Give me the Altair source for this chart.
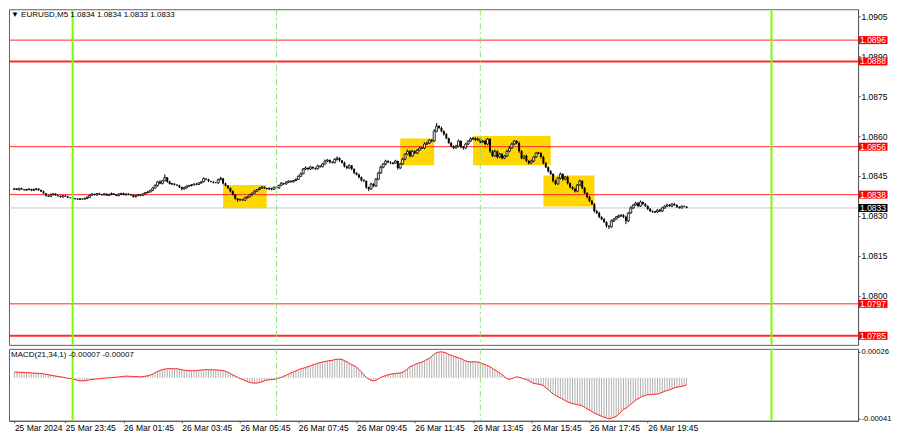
import altair as alt
import pandas as pd

# ---------------- data ----------------
# time axis: minutes counted from 25 Mar 2024 00:00, one M5 bar every 5 minutes
first_bar_minute = 1305          # 25 Mar 21:45
bar_step = 5

# closes in points above 1.08000 (e.g. 401 -> 1.08401), one row per hour
closes_pts = [
    401, 403, 400,
    402, 398, 404, 400, 397, 399, 401, 396, 399, 402, 397, 392,
    385, 376, 373, 380, 383, 378, 374, 371, 376, 373, 369, 368,
    366, 364, 362, 365, 363, 366, 370, 378, 382, 379, 384, 381,
    379, 383, 377, 381, 384, 380, 376, 382, 385, 379, 383, 381,
    378, 372, 376, 380, 377, 383, 388, 390, 396, 405, 414, 428,
    422, 432, 444, 428, 420, 421, 417, 414, 408, 401, 406, 412,
    414, 417, 420, 418, 424, 428, 440, 437, 431, 428, 425, 424,
    436, 441, 422, 414, 405, 393, 380, 365, 360, 362, 359, 368,
    372, 380, 386, 393, 399, 404, 409, 405, 401, 404, 400, 408,
    405, 415, 423, 420, 427, 431, 428, 433, 437, 449, 458, 476,
    480, 476, 484, 479, 477, 488, 485, 495, 506, 510, 502, 500,
    512, 517, 508, 500, 486, 480, 489, 476, 462, 455, 445, 434,
    431, 408, 401, 420, 412, 438, 461, 483, 495, 506, 502, 498,
    498, 506, 480, 495, 513, 532, 543, 525, 543, 536, 547, 555,
    555, 570, 574, 585, 581, 618, 637, 630, 618, 607, 592, 574,
    562, 555, 562, 581, 559, 555, 570, 581, 589, 592, 585, 589,
    577, 581, 570, 589, 543, 525, 543, 521, 532, 517, 525, 543,
    555, 570, 581, 574, 543, 517, 525, 506, 498, 506, 521, 536,
    536, 521, 498, 483, 468, 457, 431, 420, 442, 457, 438, 446,
    423, 408, 401, 393, 416, 431, 405, 386, 371, 356, 345, 318,
    311, 296, 288, 277, 262, 259, 281, 288, 296, 300, 303, 296,
    281, 311, 330, 341, 348, 337, 352, 345, 337, 326, 318, 315,
    315, 322, 318, 330, 337, 341, 337, 345, 341, 333, 330, 337,
    335, 330,
]

# upper / lower wick lengths in points
wick_up = [
    2, 1, 3,
    2, 3, 1, 2, 0, 3, 2, 1, 4, 2, 1, 2,
    3, 1, 2, 4, 1, 2, 0, 3, 1, 2, 3, 1,
    2, 1, 3, 2, 0, 2, 3, 1, 4, 2, 1, 3,
    2, 3, 1, 2, 4, 1, 2, 3, 1, 2, 0, 2,
    1, 3, 2, 1, 2, 3, 1, 4, 2, 3, 5, 4,
    6, 3, 12, 2, 4, 3, 1, 2, 3, 2, 4, 3,
    2, 3, 1, 4, 2, 3, 5, 2, 3, 1, 2, 3,
    4, 6, 2, 3, 1, 2, 3, 2, 1, 3, 2, 4,
    3, 2, 1, 3, 2, 4, 3, 2, 1, 3, 2, 2,
    3, 2, 4, 1, 3, 2, 3, 2, 4, 3, 5, 4,
    6, 3, 4, 2, 3, 5, 2, 4, 6, 3, 2, 4,
    5, 6, 3, 2, 4, 3, 5, 2, 3, 2, 4, 3,
    4, 3, 2, 5, 3, 4, 5, 6, 4, 5, 3, 4,
    3, 5, 2, 4, 5, 3, 6, 4, 5, 3, 4, 5,
    4, 6, 5, 4, 3, 8, 12, 4, 5, 3, 4, 2,
    4, 3, 5, 6, 3, 4, 5, 3, 6, 4, 3, 5,
    4, 3, 5, 4, 3, 4, 6, 3, 5, 4, 3, 5,
    6, 5, 4, 3, 5, 4, 3, 5, 4, 6, 3, 5,
    4, 3, 5, 4, 3, 4, 3, 5, 4, 6, 3, 4,
    5, 3, 4, 6, 4, 5, 3, 4, 3, 5, 4, 3,
    4, 5, 3, 4, 3, 4, 5, 3, 4, 5, 3, 4,
    5, 4, 6, 3, 5, 4, 6, 3, 4, 3, 4, 3,
    4, 3, 5, 4, 3, 5, 4, 3, 4, 3, 4, 2,
    2, 1,
]
wick_dn = [
    1, 2, 2,
    3, 1, 2, 2, 3, 1, 2, 3, 1, 2, 3, 2,
    2, 3, 1, 2, 3, 2, 1, 3, 2, 1, 2, 3,
    2, 3, 1, 2, 2, 1, 3, 2, 1, 2, 3, 1,
    3, 2, 1, 2, 3, 1, 2, 2, 3, 1, 2, 3,
    2, 3, 2, 1, 3, 2, 1, 3, 2, 3, 2, 4,
    3, 4, 2, 3, 2, 4, 3, 2, 3, 5, 2, 3,
    2, 3, 2, 3, 1, 3, 2, 3, 4, 2, 3, 2,
    3, 2, 4, 3, 4, 5, 3, 4, 6, 3, 2, 3,
    3, 2, 4, 2, 3, 2, 3, 4, 2, 3, 4, 2,
    2, 3, 2, 4, 2, 3, 4, 2, 3, 2, 3, 2,
    4, 5, 3, 4, 5, 3, 4, 3, 2, 4, 5, 3,
    3, 4, 5, 3, 4, 5, 3, 4, 5, 3, 4, 5,
    4, 6, 8, 3, 4, 3, 4, 3, 4, 5, 3, 4,
    5, 3, 6, 4, 3, 4, 3, 5, 3, 4, 3, 4,
    3, 4, 3, 4, 5, 3, 4, 3, 4, 5, 4, 3,
    5, 4, 3, 4, 5, 6, 3, 4, 3, 4, 3, 4,
    4, 3, 5, 4, 6, 4, 3, 5, 4, 5, 4, 3,
    4, 3, 4, 5, 6, 4, 5, 4, 5, 3, 4, 3,
    4, 5, 4, 3, 5, 4, 5, 4, 3, 5, 6, 4,
    5, 4, 3, 5, 4, 3, 5, 4, 5, 4, 3, 5,
    4, 5, 4, 3, 6, 8, 3, 4, 3, 4, 3, 4,
    12, 4, 3, 4, 3, 4, 3, 4, 3, 4, 3, 4,
    3, 4, 3, 4, 3, 2, 3, 4, 3, 2, 3, 2,
    2, 1,
]

# MACD(21,34,1) per bar, in units of 0.00001
macd_e5 = [
    6.2, 6.0, 5.9,
    5.8, 5.7, 5.6, 5.5, 5.4, 5.2, 5.1, 4.9, 4.8, 4.6, 4.5, 4.3,
    4.0, 3.6, 3.1, 2.7, 2.2, 1.8, 1.3, 1.0, 0.6, 0.1, -0.4, -0.7,
    -1.2, -1.8, -2.5, -3.0, -3.1, -2.9, -2.5, -2.0, -1.7, -1.4, -1.1, -0.9,
    -0.6, -0.4, -0.2, 0.0, 0.2, 0.4, 0.6, 0.9, 1.2, 1.5, 1.7, 1.6,
    1.5, 1.3, 1.2, 1.1, 1.0, 1.2, 1.6, 2.1, 2.7, 3.8, 5.0, 6.5,
    7.3, 8.1, 8.8, 9.1, 9.2, 9.1, 9.0, 9.1, 8.6, 8.0, 7.6, 7.4,
    7.2, 7.0, 7.1, 7.3, 7.6, 7.9, 8.1, 8.2, 8.1, 8.0, 8.1, 7.9,
    7.7, 7.6, 7.3, 6.5, 5.5, 4.2, 3.0, 1.8, 0.5, -0.8, -1.7, -2.8,
    -3.8, -4.6, -5.1, -5.3, -5.2, -4.8, -4.0, -3.0, -2.3, -2.0, -1.8, -1.5,
    -1.0, -0.2, 0.6, 1.5, 2.6, 3.8, 5.0, 6.0, 7.0, 8.0, 9.0, 9.6,
    10.3, 11.2, 12.1, 13.0, 13.7, 14.5, 15.2, 15.8, 16.3, 16.8, 17.2, 17.6,
    18.2, 18.6, 18.7, 18.3, 17.2, 16.0, 14.6, 13.3, 12.1, 10.6, 8.5, 6.0,
    3.0, 0.3, -1.2, -2.5, -3.0, -2.6, -1.0, 0.5, 1.3, 2.3, 3.0, 3.7,
    4.0, 4.3, 4.6, 5.0, 5.6, 7.0, 9.0, 11.0, 12.2, 13.3, 14.3, 15.0,
    15.8, 17.0, 18.5, 19.5, 21.5, 23.8, 25.3, 25.8, 26.0, 25.6, 24.8, 23.5,
    22.5, 21.7, 20.8, 20.0, 19.3, 18.0, 16.8, 16.1, 16.0, 16.0, 16.1, 15.8,
    15.0, 14.0, 13.2, 12.2, 11.0, 9.5, 8.0, 6.5, 5.0, 3.0, 1.0, -1.0,
    -1.5, -0.8, 0.2, 1.0, 0.5, -0.2, -1.0, -1.8, -3.0, -4.5, -5.6, -6.0,
    -6.4, -6.8, -8.0, -10.0, -11.8, -14.0, -16.2, -17.8, -19.0, -20.0, -21.5, -22.8,
    -24.0, -25.0, -25.8, -26.4, -27.0, -27.3, -28.0, -29.5, -31.0, -32.3, -33.8, -35.3,
    -36.5, -37.5, -38.5, -39.5, -40.3, -41.0, -40.5, -39.5, -38.6, -36.5, -34.0, -31.5,
    -30.5, -28.5, -26.5, -24.5, -22.5, -21.0, -19.6, -18.4, -17.5, -17.0, -16.8, -16.6,
    -16.4, -16.2, -15.5, -14.5, -13.5, -12.8, -12.0, -11.0, -10.0, -9.4, -9.0, -8.5,
    -8.0, -7.0,
]

# horizontal levels (red), their widths, and the current price (bid)
levels = [1.0896, 1.0888, 1.0856, 1.0838, 1.0797, 1.0785]
level_widths = [1, 2, 1, 1, 1, 2]
bid_price = 1.0833

# yellow rectangles: start / end minute, top / bottom price
box_t1 = [1750, 2115, 2265, 2410]
box_t2 = [1840, 2185, 2425, 2515]
box_top = [1.08416, 1.08591, 1.08600, 1.08452]
box_bottom = [1.08329, 1.08490, 1.08490, 1.08335]

# vertical separators
day_lines = [1440, 2880]          # 26 Mar 00:00, 27 Mar 00:00
session_lines = [1860, 2280]      # 26 Mar 07:00, 26 Mar 14:00

# axes
price_ticks = [1.0905, 1.0890, 1.0875, 1.0860, 1.0845, 1.0830, 1.0815, 1.0800]
macd_ticks = [0.00026, 0.0, -0.00041]
time_tick_minutes = [1320, 1425, 1545, 1665, 1785, 1905, 2025, 2145, 2265, 2385, 2505, 2625]
time_tick_labels = ["25 Mar 2024", "25 Mar 23:45", "26 Mar 01:45", "26 Mar 03:45",
                    "26 Mar 05:45", "26 Mar 07:45", "26 Mar 09:45", "26 Mar 11:45",
                    "26 Mar 13:45", "26 Mar 15:45", "26 Mar 17:45", "26 Mar 19:45"]

header_text = "▼ EURUSD,M5  1.0834 1.0834 1.0833 1.0833"
macd_header = "MACD(21,34,1) -0.00007 -0.00007"

x_domain = [1319.2, 3048.0]
price_domain = [1.07816, 1.09076]
macd_domain = [-0.00043, 0.00029]

# ---------------- tables ----------------
n = len(closes_pts)
assert len(wick_up) == n and len(wick_dn) == n and len(macd_e5) == n
times = [first_bar_minute + bar_step * i for i in range(n)]
close = [1.08 + v / 100000 for v in closes_pts]
open_ = [close[0]] + close[:-1]
high = [max(o, c) + w / 100000 for o, c, w in zip(open_, close, wick_up)]
low = [min(o, c) - w / 100000 for o, c, w in zip(open_, close, wick_dn)]
candles_all = pd.DataFrame({"t": times, "o": open_, "c": close, "h": high, "l": low})
macd_all = pd.DataFrame({"t": times, "m": [v / 100000 for v in macd_e5], "zero": 0.0})

# bars left of the visible window (the window starts at 22:00) are not drawn
candles = candles_all[candles_all["t"] >= 1320]
macd_df = macd_all[macd_all["t"] >= 1320]
bull = candles[candles["c"] >= candles["o"]]
bear = candles[candles["c"] < candles["o"]]

levels_df = pd.DataFrame({"p": levels, "w": level_widths,
                          "label": [f"{v:.4f}" for v in levels]})
bid_df = pd.DataFrame({"p": [bid_price], "label": [f"{bid_price:.4f}"]})
boxes_df = pd.DataFrame({"t1": box_t1, "t2": box_t2, "p1": box_top, "p2": box_bottom})
day_df = pd.DataFrame({"t": day_lines})
sess_df = pd.DataFrame({"t": session_lines})

PW = 850
PH = 336
MH = 72
FONT = "Liberation Sans"
FS = 8.5
BOXX = PW + 15

xs = alt.Scale(domain=x_domain, nice=False, zero=False)
ps = alt.Scale(domain=price_domain, nice=False, zero=False)
ms = alt.Scale(domain=macd_domain, nice=False, zero=False)

price_axis = alt.Axis(orient="right", values=price_ticks, format=".4f", grid=False,
                      title=None, tickSize=2, labelPadding=1, labelFont=FONT,
                      labelFontSize=FS, labelColor="#000000", domainColor="#555555",
                      tickColor="#555555")


def PX(field):
    return alt.X(field, type="quantitative", scale=xs, axis=None, title=None)


def PY(field):
    return alt.Y(field, type="quantitative", scale=ps, title=None)


boxes = alt.Chart(boxes_df).mark_rect(color="#ffd700", clip=True).encode(
    x=PX("t1"), x2="t2",
    y=alt.Y("p1", type="quantitative", scale=ps, axis=price_axis, title=None), y2="p2")

bid_line = alt.Chart(bid_df).mark_rule(color="#c8c8c8", strokeWidth=1, clip=True).encode(
    y=PY("p"))

level_lines = alt.Chart(levels_df).mark_rule(color="#ff2a2a", clip=True).encode(
    y=PY("p"),
    strokeWidth=alt.StrokeWidth("w:Q", scale=None, legend=None))

wicks = alt.Chart(candles).mark_rule(color="#000000", strokeWidth=1, clip=True).encode(
    x=PX("t"), y=PY("l"), y2="h")

bull_bodies = alt.Chart(bull).mark_bar(width=2, fill="#ffffff", stroke="#000000",
                                       strokeWidth=0.8, clip=True).encode(
    x=PX("t"), y=PY("o"), y2="c")

bear_bodies = alt.Chart(bear).mark_bar(width=2, color="#000000", clip=True).encode(
    x=PX("t"), y=PY("o"), y2="c")

sess_p = alt.Chart(sess_df).mark_rule(color="#8fe07a", strokeWidth=1,
                                      strokeDash=[6, 3, 2, 3], clip=True).encode(x=PX("t"))
day_p = alt.Chart(day_df).mark_rule(color="#7cfc00", strokeWidth=2, clip=True).encode(x=PX("t"))

header = alt.Chart(pd.DataFrame({"s": [header_text]})).mark_text(
    align="left", baseline="middle", font=FONT, fontSize=8, color="#000000").encode(
    x=alt.value(2), y=alt.value(6), text="s:N")

lvl_box = alt.Chart(levels_df).mark_tick(orient="horizontal", size=29, thickness=8,
                                         color="#ff0000", opacity=1).encode(
    x=alt.value(BOXX), y=PY("p"))
lvl_txt = alt.Chart(levels_df).mark_text(align="center", baseline="middle", font=FONT,
                                         fontSize=FS, color="#ffffff").encode(
    x=alt.value(BOXX), y=PY("p"), text="label:N")
bid_box = alt.Chart(bid_df).mark_tick(orient="horizontal", size=29, thickness=8,
                                      color="#000000", opacity=1).encode(
    x=alt.value(BOXX), y=PY("p"))
bid_txt = alt.Chart(bid_df).mark_text(align="center", baseline="middle", font=FONT,
                                      fontSize=FS, color="#ffffff").encode(
    x=alt.value(BOXX), y=PY("p"), text="label:N")

price_chart = alt.layer(
    boxes, bid_line, level_lines, wicks, bull_bodies, bear_bodies,
    sess_p, day_p, header, lvl_box, lvl_txt, bid_box, bid_txt
).properties(width=PW, height=PH)

# ---------------- MACD pane ----------------
labels_js = "[" + ",".join(f"'{s}'" for s in time_tick_labels) + "]"
vals_js = "[" + ",".join(str(v) for v in time_tick_minutes) + "]"
time_axis = alt.Axis(orient="bottom", values=time_tick_minutes, title=None,
                     labelExpr=f"{labels_js}[indexof({vals_js}, datum.value)]",
                     labelAlign="left", labelBaseline="top", labelPadding=1,
                     labelFlush=False, labelOverlap=False, grid=False, tickSize=2,
                     labelFont=FONT, labelFontSize=8.5, labelColor="#000000",
                     domainColor="#555555", tickColor="#555555")
macd_axis = alt.Axis(orient="right", values=macd_ticks, title=None,
                     labelExpr="datum.value == 0 ? '0.00' : (datum.value < 0 ? '-' + format(-datum.value, '.5f') : format(datum.value, '.5f'))",
                     grid=False, tickSize=2, labelPadding=1, labelFont=FONT,
                     labelFontSize=7.6, labelColor="#000000", domainColor="#555555",
                     tickColor="#555555")


def MX(field, axis=None):
    if axis is None:
        return alt.X(field, type="quantitative", scale=xs, title=None)
    return alt.X(field, type="quantitative", scale=xs, axis=axis, title=None)


def MY(field):
    return alt.Y(field, type="quantitative", scale=ms, title=None)


hist = alt.Chart(macd_df).mark_rule(color="#b0b0b0", strokeWidth=1, clip=True).encode(
    x=MX("t", time_axis),
    y=alt.Y("zero", type="quantitative", scale=ms, axis=macd_axis, title=None), y2="m")
sig = alt.Chart(macd_df).mark_line(color="#ff2020", strokeWidth=1, clip=True).encode(
    x=MX("t"), y=MY("m"))
sess_m = alt.Chart(sess_df).mark_rule(color="#8fe07a", strokeWidth=1,
                                      strokeDash=[6, 3, 2, 3], clip=True).encode(x=MX("t"))
day_m = alt.Chart(day_df).mark_rule(color="#7cfc00", strokeWidth=2, clip=True).encode(
    x=MX("t"))
macd_head = alt.Chart(pd.DataFrame({"s": [macd_header]})).mark_text(
    align="left", baseline="middle", font=FONT, fontSize=8, color="#000000").encode(
    x=alt.value(2), y=alt.value(6), text="s:N")

macd_chart = alt.layer(hist, sig, sess_m, day_m, macd_head).properties(width=PW, height=MH)

chart = alt.vconcat(price_chart, macd_chart, spacing=1).resolve_scale(
    x="shared", y="independent"
).properties(padding=0, background="#ffffff").configure_view(
    stroke="#606060", strokeWidth=1
)

chart.save("out.html", embed_options={"renderer": "svg", "actions": False})
